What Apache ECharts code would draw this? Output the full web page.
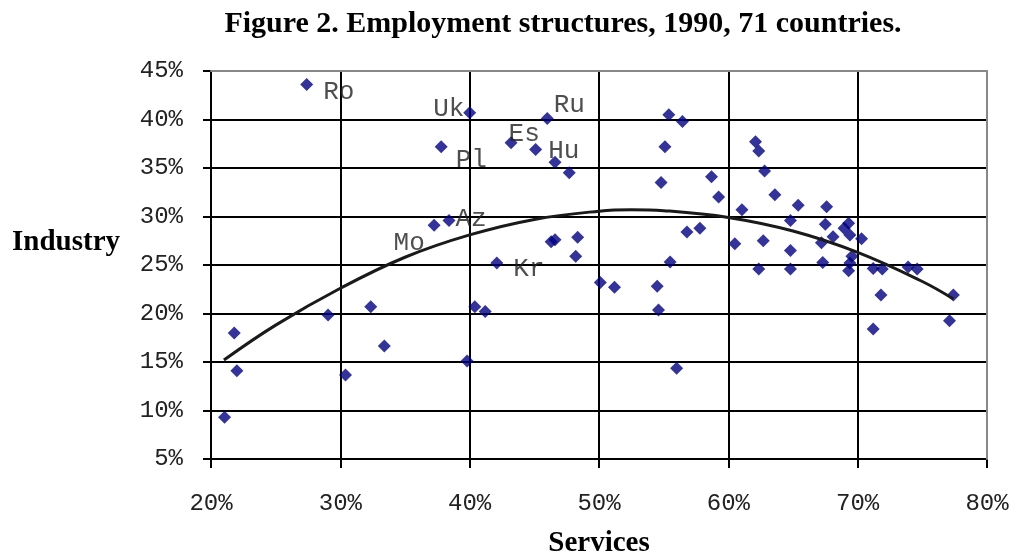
<!DOCTYPE html>
<html>
<head>
<meta charset="utf-8">
<title>Employment structures</title>
<script src="https://cdn.jsdelivr.net/npm/echarts@6.0.0/dist/echarts.min.js"></script>
<style>
    html, body { margin: 0; padding: 0; background: #fff; }
    #chart { width: 1014px; height: 556px; }
</style>
</head>
<body>
<div id="chart"></div>
<script>
// services share (%) / industry share (%) per country
var services = [27.4, 40.0, 46.0, 37.8, 43.2, 45.1, 46.6, 47.7, 38.4, 37.25,
    46.3, 46.6, 48.35, 48.2, 42.1, 50.1, 51.2, 40.4, 41.2, 39.8,
    21.8, 22.0, 21.05, 29.05, 32.35, 33.4, 30.4, 55.4, 56.45, 55.1,
    54.8, 58.7, 59.25, 62.1, 62.35, 62.8, 63.6, 65.4, 61.05, 64.8,
    57.8, 56.8, 60.5, 62.7, 64.8, 62.35, 64.8, 55.5, 54.5, 54.6,
    56.0, 67.6, 67.5, 69.3, 68.95, 69.4, 68.1, 67.2, 70.3, 69.55,
    69.4, 67.3, 69.3, 71.2, 71.9, 73.9, 74.6, 71.8, 77.4, 71.2, 77.1];
var industry = [43.6, 40.7, 40.1, 37.2, 37.6, 36.9, 35.6, 34.5, 29.6, 29.1,
    27.4, 27.6, 27.85, 25.9, 25.2, 23.2, 22.7, 20.7, 20.2, 15.1,
    18.0, 14.1, 9.3, 19.85, 20.7, 16.65, 13.65, 40.5, 39.8, 37.2,
    33.5, 34.1, 32.0, 37.7, 36.75, 34.7, 32.25, 31.15, 30.7, 29.6,
    28.8, 28.4, 27.2, 27.5, 26.5, 24.6, 24.6, 25.3, 22.8, 20.35,
    14.35, 31.0, 29.2, 29.3, 28.8, 28.1, 27.9, 27.3, 27.7, 25.9,
    25.2, 25.25, 24.4, 24.65, 24.6, 24.8, 24.6, 21.9, 21.9, 18.4, 19.25];
var codes = ['Ro', 'Uk', 'Ru', 'Pl', 'Es', 'Hu', '', '', 'Az', 'Mo',
    '', '', '', '', 'Kr'];

// polynomial trend line as drawn on the figure
var trendX = [21, 25, 30, 35, 40, 45, 50, 52.5, 55, 60, 65, 70, 75, 77.4];
var trendY = [15.2, 18.8, 22.6, 25.8, 28.1, 29.7, 30.55, 30.7, 30.6, 29.9, 28.5, 26.3, 23.3, 21.5];

var xTicks = [20, 80, 10];   // min, max, step
var yTicks = [5, 45, 5];

// where each country code sits next to its marker (px)
var labelOffsets = {
    Ro: [10, 8], Uk: [-43, -4], Ru: [0, -13], Es: [-9, -9], Hu: [6, 2],
    Pl: [8, 13], Az: [0, -1], Mo: [-47, 18], Kr: [10, 6]
};

window.onload = function () {
    chart();
};

function chart() {
    var myChart = echarts.init(document.getElementById('chart'));

    var points = [];
    for (var i = 0; i < services.length; i++) {
        var item = { value: [services[i], industry[i]] };
        var code = codes[i];
        if (code) {
            item.name = code;
            item.label = {
                show: true,
                position: 'right',
                distance: 0,
                offset: labelOffsets[code],
                formatter: code
            };
        }
        points.push(item);
    }
    var trend = [];
    for (var j = 0; j < trendX.length; j++) {
        trend.push([trendX[j], trendY[j]]);
    }

    var tickFont = {
        fontFamily: 'Liberation Mono',
        fontSize: 24,
        color: '#222'
    };
    var nameFont = {
        fontFamily: 'Liberation Serif',
        fontWeight: 'bold',
        fontSize: 29,
        color: '#000'
    };

    var option = {
        backgroundColor: '#fff',
        animation: false,
        title: {
            text: 'Figure 2. Employment structures, 1990, 71 countries.',
            left: 558,
            top: 4,
            textAlign: 'center',
            textStyle: {
                fontFamily: 'Liberation Serif',
                fontWeight: 'bold',
                fontSize: 30,
                color: '#000'
            }
        },
        grid: {
            left: 211,
            right: 27,
            top: 71,
            bottom: 97,
            outerBoundsMode: 'none'
        },
        xAxis: [{
            type: 'value',
            min: xTicks[0],
            max: xTicks[1],
            interval: xTicks[2],
            name: 'Services',
            nameLocation: 'middle',
            nameGap: 70,
            nameTextStyle: nameFont,
            axisLine: { lineStyle: { color: '#000', width: 2 } },
            axisTick: { length: 9, lineStyle: { color: '#000', width: 2 } },
            axisLabel: Object.assign({ margin: 33, formatter: '{value}%' }, tickFont),
            splitLine: { show: true, lineStyle: { color: '#000', width: 2 } }
        }, {
            // gray frame on top
            type: 'value',
            position: 'top',
            min: xTicks[0],
            max: xTicks[1],
            z: 5,
            axisLine: { show: true, lineStyle: { color: '#888', width: 2 } },
            axisTick: { show: false },
            axisLabel: { show: false },
            splitLine: { show: false }
        }],
        yAxis: [{
            type: 'value',
            min: yTicks[0],
            max: yTicks[1],
            interval: yTicks[2],
            name: 'Industry',
            nameLocation: 'middle',
            nameRotate: 0,
            nameGap: 91,
            nameTextStyle: Object.assign({ verticalAlign: 'bottom', padding: [0, 0, 8, 0] }, nameFont),
            axisLine: { show: true, lineStyle: { color: '#000', width: 2 } },
            axisTick: { show: true, length: 8, lineStyle: { color: '#000', width: 2 } },
            axisLabel: Object.assign({ margin: 28, formatter: '{value}%', padding: [8, 0, 0, 0] }, tickFont),
            splitLine: { show: true, lineStyle: { color: '#000', width: 2 } }
        }, {
            // gray frame on the right
            type: 'value',
            position: 'right',
            min: yTicks[0],
            max: yTicks[1],
            z: 5,
            axisLine: { show: true, lineStyle: { color: '#888', width: 2 } },
            axisTick: { show: false },
            axisLabel: { show: false },
            splitLine: { show: false }
        }],
        series: [{
            name: 'Countries',
            type: 'scatter',
            symbol: 'diamond',
            symbolSize: 13,
            itemStyle: { color: '#000080' },
            label: {
                fontFamily: 'Liberation Mono',
                fontSize: 26,
                color: '#222'
            },
            data: points,
            z: 3
        }, {
            name: 'Trend',
            type: 'line',
            smooth: 0.4,
            showSymbol: false,
            symbol: 'none',
            lineStyle: { color: '#1a1a1a', width: 3 },
            data: trend,
            z: 4
        }]
    };
    myChart.setOption(option);
}
</script>
</body>
</html>
